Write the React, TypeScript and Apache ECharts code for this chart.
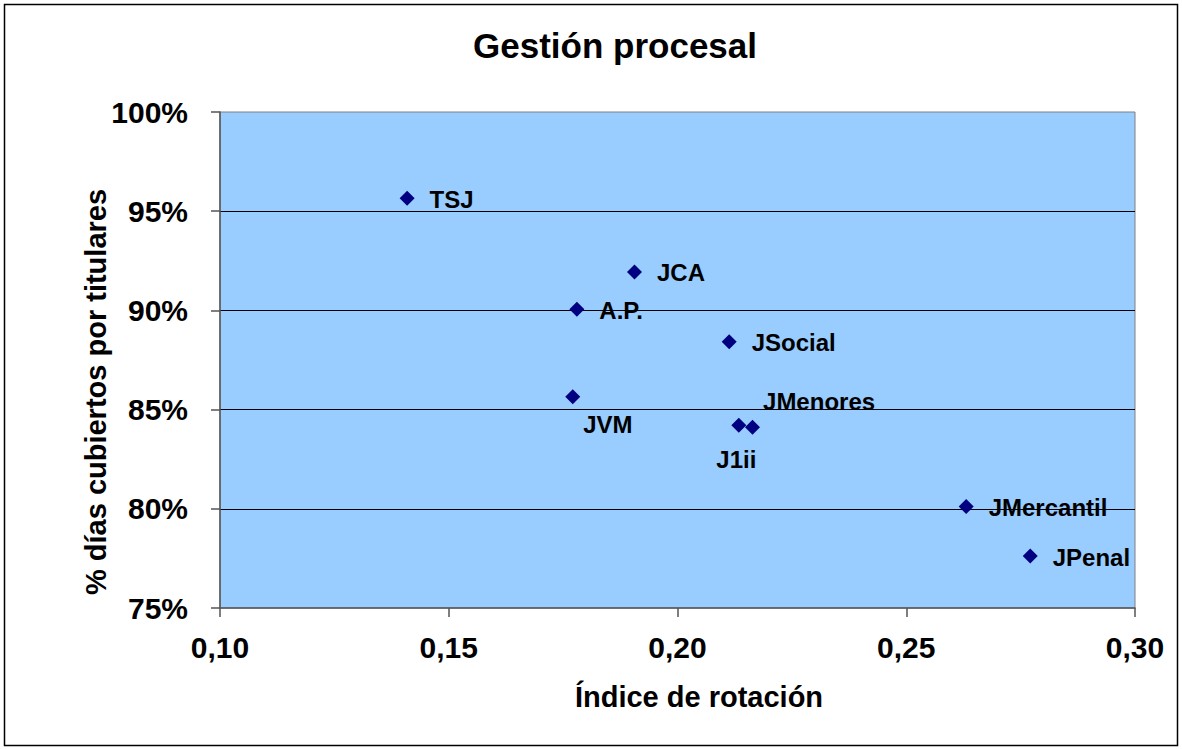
import React, { useEffect, useRef } from "react";
import * as echarts from "echarts";

const names = ["TSJ", "JCA", "A.P.", "JSocial", "JVM", "J1ii", "JMenores", "JMercantil", "JPenal"];
const rotation = [0.1409, 0.1906, 0.178, 0.2113, 0.1771, 0.2134, 0.2164, 0.2631, 0.2771];
const coverage = [95.65, 91.94, 90.06, 88.42, 85.65, 84.21, 84.11, 80.11, 77.62];
const labelOffsets: Record<string, [number, number]> = {
  JVM: [-12, 28],
  J1ii: [-45, 34],
  JMenores: [-12, -26],
};

const FONT = "'Liberation Sans', Arial, sans-serif";

export default function App() {
  const ref = useRef<HTMLDivElement>(null);
  useEffect(() => {
    if (!ref.current) return;
    const chart = echarts.init(ref.current, undefined, { renderer: "svg" });
    const data = names.map((n, i) => ({
      name: n,
      value: [rotation[i], coverage[i]],
      label: { offset: labelOffsets[n] || [0, 1] },
    }));
    chart.setOption({
      animation: false,
      backgroundColor: "#ffffff",
      grid: {
        left: 220,
        top: 112,
        right: 47,
        bottom: 141,
        show: true,
        backgroundColor: "#99CCFF",
        borderColor: "#808080",
        borderWidth: 1,
      },
      xAxis: {
        type: "value",
        min: 0.1,
        max: 0.3,
        interval: 0.05,
        axisLine: { show: true, onZero: false, lineStyle: { color: "#555555", width: 1.5 } },
        axisTick: { show: true, length: 9, lineStyle: { color: "#555555", width: 1.5 } },
        splitLine: { show: false },
        axisLabel: {
          margin: 24,
          color: "#000",
          fontFamily: FONT,
          fontWeight: "bold",
          fontSize: 30,
          formatter: (v: number) => v.toFixed(2).replace(".", ","),
        },
      },
      yAxis: {
        type: "value",
        min: 75,
        max: 100,
        interval: 5,
        axisLine: { show: true, onZero: false, lineStyle: { color: "#555555", width: 1.5 } },
        axisTick: { show: true, length: 9, lineStyle: { color: "#555555", width: 1.5 } },
        splitLine: {
          show: true,
          showMinLine: false,
          showMaxLine: false,
          lineStyle: { color: "#000000", width: 1 },
        },
        axisLabel: {
          margin: 32,
          color: "#000",
          fontFamily: FONT,
          fontWeight: "bold",
          fontSize: 30,
          formatter: (v: number) => v + "%",
        },
      },
      series: [
        {
          type: "scatter",
          symbol: "diamond",
          symbolSize: 15,
          itemStyle: { color: "#000080", opacity: 1 },
          data,
          label: {
            show: true,
            position: "right",
            distance: 15,
            formatter: (p: any) => p.name,
            color: "#000",
            fontFamily: FONT,
            fontWeight: "bold",
            fontSize: 24,
          },
        },
      ],
      graphic: [
        {
          type: "rect",
          shape: { x: 4.5, y: 4.5, width: 1173, height: 741 },
          style: { fill: "none", stroke: "#000", lineWidth: 1.5 },
          silent: true,
          z: -1,
        },
        {
          type: "text",
          x: 615,
          y: 45,
          style: {
            text: "Gestión procesal",
            fill: "#000",
            font: `bold 35px ${FONT}`,
            textAlign: "center",
            textVerticalAlign: "middle",
          },
        },
        {
          type: "text",
          x: 699,
          y: 697,
          style: {
            text: "Índice de rotación",
            fill: "#000",
            font: `bold 29px ${FONT}`,
            textAlign: "center",
            textVerticalAlign: "middle",
          },
        },
        {
          type: "text",
          x: 96,
          y: 392,
          rotation: Math.PI / 2,
          style: {
            text: "% días cubiertos por titulares",
            fill: "#000",
            font: `bold 29px ${FONT}`,
            textAlign: "center",
            textVerticalAlign: "middle",
          },
        },
      ],
    });
    return () => chart.dispose();
  }, []);
  return (
    <div
      ref={ref}
      style={{ position: "fixed", left: 0, top: 0, width: 1182, height: 749, background: "#fff" }}
    />
  );
}
